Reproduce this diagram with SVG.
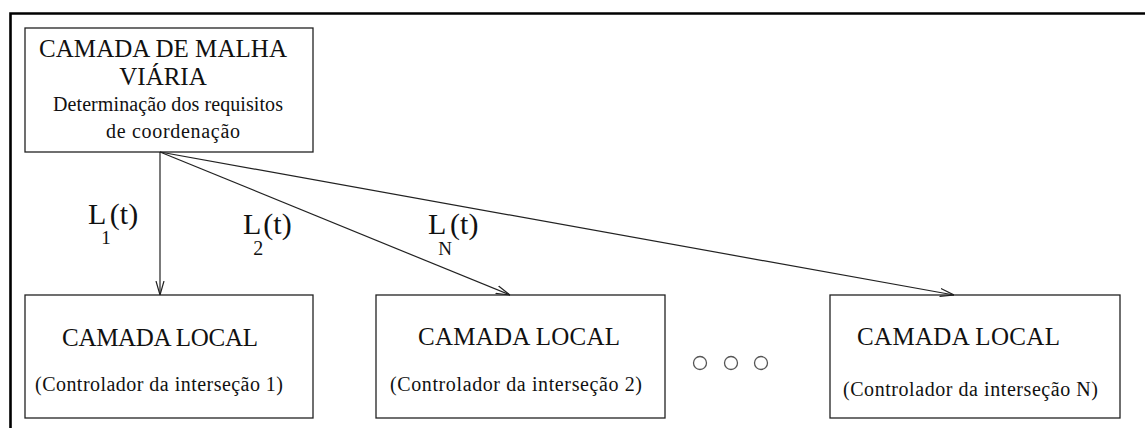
<svg xmlns="http://www.w3.org/2000/svg" width="1145" height="428" viewBox="0 0 1145 428">
<style>
.box{fill:#fff;stroke:#222;stroke-width:1.3}
.t{font-family:"Liberation Serif","Times New Roman","DejaVu Serif",serif;fill:#111}
.conn{stroke:#222;stroke-width:1.2;fill:none}
.dot{fill:none;stroke:#555;stroke-width:1.3}
</style>
<defs>
<marker id="ah" viewBox="0 0 14 10" refX="14" refY="5" markerWidth="14" markerHeight="10" markerUnits="userSpaceOnUse" orient="auto">
<path d="M0,1 L14,5 L0,9" fill="none" stroke="#222" stroke-width="1.2"/>
</marker>
</defs>
<rect width="1145" height="428" fill="#fff"/>
<path d="M10.5,440 V13.5 H1160" fill="none" stroke="#000" stroke-width="2.6"/>
<g id="top">
<rect class="box" x="25" y="28" width="288" height="124"/>
<text class="t" x="39" y="57" font-size="25" textLength="248">CAMADA DE MALHA</text>
<text class="t" x="163" y="85" font-size="25" text-anchor="middle">VIÁRIA</text>
<text class="t" x="53" y="111" font-size="20" textLength="230">Determinação dos requisitos</text>
<text class="t" x="106" y="138" font-size="20" textLength="134">de coordenação</text>
</g>
<g id="local1">
<rect class="box" x="25" y="295" width="288" height="123"/>
<text class="t" x="62" y="346" font-size="25" textLength="196">CAMADA LOCAL</text>
<text class="t" x="35" y="391" font-size="20" textLength="248">(Controlador da interseção 1)</text>
</g>
<g id="local2">
<rect class="box" x="376" y="295" width="289" height="123"/>
<text class="t" x="418" y="345" font-size="25" textLength="202">CAMADA LOCAL</text>
<text class="t" x="390" y="391" font-size="20" textLength="252">(Controlador da interseção 2)</text>
</g>
<g id="localN">
<rect class="box" x="830" y="295" width="290" height="123"/>
<text class="t" x="857" y="345" font-size="25" textLength="203">CAMADA LOCAL</text>
<text class="t" x="843" y="396" font-size="20" textLength="255">(Controlador da interseção N)</text>
</g>
<g id="ellipsis">
<circle class="dot" cx="700" cy="363" r="6.5"/>
<circle class="dot" cx="731" cy="363" r="6.5"/>
<circle class="dot" cx="761" cy="363" r="6.5"/>
</g>
<g id="connectors">
<line class="conn" x1="160" y1="152" x2="160" y2="295" marker-end="url(#ah)"/>
<line class="conn" x1="160" y1="152" x2="510" y2="295" marker-end="url(#ah)"/>
<line class="conn" x1="160" y1="152" x2="954" y2="295" marker-end="url(#ah)"/>
<text class="t" x="88" y="224" font-size="30">L<tspan font-size="19" dx="-5" dy="20">1</tspan><tspan dx="-1" dy="-20">(t)</tspan></text>
<text class="t" x="243" y="234" font-size="30">L<tspan font-size="20" dx="-8" dy="21">2</tspan><tspan dx="0" dy="-21">(t)</tspan></text>
<text class="t" x="428" y="234" font-size="30">L<tspan font-size="19" dx="-8" dy="21">N</tspan><tspan dx="-2" dy="-21">(t)</tspan></text>
</g>
</svg>
